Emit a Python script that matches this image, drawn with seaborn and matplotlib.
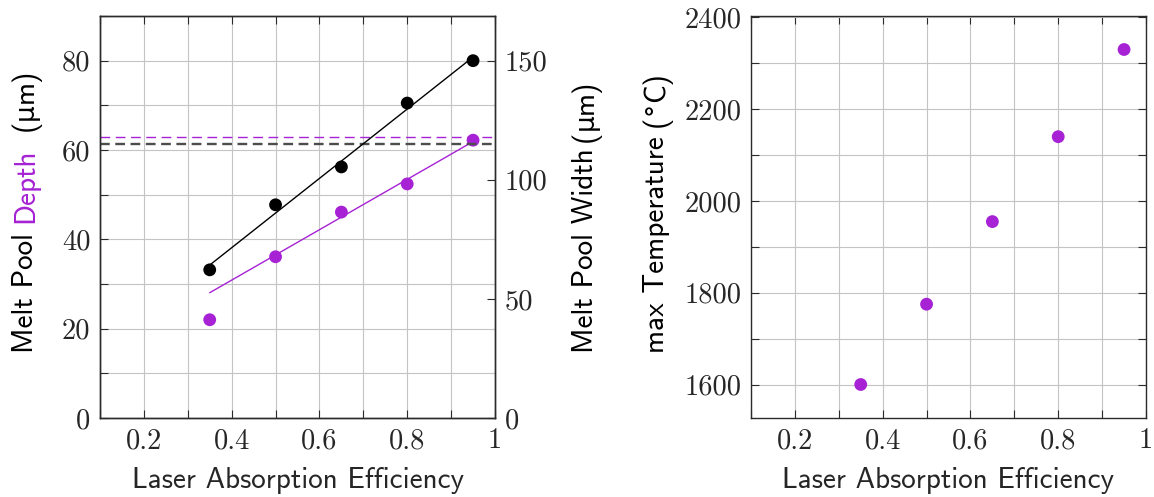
import numpy as np
import pandas as pd
import seaborn as sns
import matplotlib
matplotlib.use("Agg")
import matplotlib.pyplot as plt
from matplotlib.ticker import MultipleLocator, FixedLocator, FuncFormatter

# ---------------- data ----------------
efficiency = [0.35, 0.50, 0.65, 0.80, 0.95]
depth_um = [22.0, 36.1, 46.1, 52.4, 62.2]
width_um = [62.2, 89.5, 105.4, 132.2, 150.0]
max_temp_C = [1600, 1775, 1955, 2140, 2330]
depth_reference = 62.8
width_reference = 115.0

PURPLE = '#a622d4'
GRID = '#c4c4c4'
FRAME = '#2b2b2b'
W, H = 1154, 497

sns.set_theme(style='white')
plt.rcParams['font.family'] = ['cmr10', 'DejaVu Serif']
plt.rcParams['axes.formatter.use_mathtext'] = True
plt.rcParams['lines.scale_dashes'] = False
SANS = ['cmss10']
SYM = ['DejaVu Sans']
TICK_FS = 20.5
LAB_FS = 21

df = pd.DataFrame({'eff': efficiency, 'depth': depth_um, 'width': width_um, 'temp': max_temp_C})

fig = plt.figure(figsize=(W / 100, H / 100), dpi=100)
ax1 = fig.add_axes([100 / W, 1 - 418 / H, 395 / W, 402 / H])
ax3 = fig.add_axes([751 / W, 1 - 418 / H, 395 / W, 402 / H])
ax2 = ax1.twinx()

fmt = FuncFormatter(lambda v, p: f'{v:g}')

# ---------------- left panel ----------------
ax1.set_xlim(0.1, 1.0)
ax1.set_ylim(0, 90)
ax2.set_ylim(0, 90 * 150 / 80)

d_fit = np.polyfit(efficiency[1:], depth_um[1:], 1)
w_fit = np.polyfit(efficiency, width_um, 1)
xs = np.array([efficiency[0], efficiency[-1]])
sns.lineplot(x=xs, y=np.polyval(d_fit, xs), ax=ax1, color=PURPLE, lw=1.0, zorder=3)
sns.lineplot(x=xs, y=np.polyval(w_fit, xs), ax=ax2, color='black', lw=1.0, zorder=3)

ax1.axhline(depth_reference, color=PURPLE, lw=1.0, ls=(0, (7, 4)), zorder=2)
ax2.axhline(width_reference, color='#4d4d4d', lw=1.7, ls=(0, (7, 4)), zorder=2)

sns.scatterplot(data=df, x='eff', y='depth', ax=ax1, color=PURPLE, s=85, edgecolor='none', zorder=4)
sns.scatterplot(data=df, x='eff', y='width', ax=ax2, color='black', s=85, edgecolor='none', zorder=4)

ax1.xaxis.set_major_locator(FixedLocator([0.2, 0.4, 0.6, 0.8, 1.0]))
ax1.xaxis.set_minor_locator(FixedLocator([0.1, 0.3, 0.5, 0.7, 0.9]))
ax1.yaxis.set_major_locator(MultipleLocator(20))
ax1.yaxis.set_minor_locator(MultipleLocator(10))
ax2.yaxis.set_major_locator(MultipleLocator(50))
ax1.xaxis.set_major_formatter(fmt)
ax1.yaxis.set_major_formatter(fmt)
ax2.yaxis.set_major_formatter(fmt)

ax1.grid(True, which='both', color=GRID, lw=0.8)
ax2.grid(False)
for a in (ax1, ax2):
    a.set_xlabel('')
    a.set_ylabel('')

# ---------------- right panel ----------------
sns.scatterplot(data=df, x='eff', y='temp', ax=ax3, color=PURPLE, s=85, edgecolor='none', zorder=4)
ax3.set_xlim(0.1, 1.0)
rng = max(max_temp_C) - min(max_temp_C)
ax3.set_ylim(min(max_temp_C) - 0.1 * rng, max(max_temp_C) + 0.1 * rng)
ax3.xaxis.set_major_locator(FixedLocator([0.2, 0.4, 0.6, 0.8, 1.0]))
ax3.xaxis.set_minor_locator(FixedLocator([0.1, 0.3, 0.5, 0.7, 0.9]))
ax3.yaxis.set_major_locator(MultipleLocator(200))
ax3.yaxis.set_minor_locator(MultipleLocator(100))
ax3.xaxis.set_major_formatter(fmt)
ax3.yaxis.set_major_formatter(fmt)
ax3.grid(True, which='both', color=GRID, lw=0.8)
ax3.set_ylabel('')
ax3.set_xlabel('Laser Absorption Efficiency', family=SANS, fontsize=LAB_FS, labelpad=9)
ax1.set_xlabel('Laser Absorption Efficiency', family=SANS, fontsize=LAB_FS, labelpad=9)

for a in (ax1, ax2, ax3):
    for s in a.spines.values():
        s.set_color(FRAME)
        s.set_linewidth(1.0)
        s.set_visible(True)
    a.set_axisbelow(True)

for a in (ax1, ax3):
    a.tick_params(which='both', direction='in', length=6, width=0.8, color=FRAME,
                  top=True, bottom=True, labelsize=TICK_FS, pad=7)
ax1.tick_params(axis='y', which='both', left=True, right=False)
ax3.tick_params(axis='y', which='both', left=True, right=True)
ax2.tick_params(axis='y', which='both', direction='in', length=6, width=0.8, color=FRAME,
                right=True, left=False, labelsize=TICK_FS, pad=7)
for a in (ax1, ax2, ax3):
    for lab in a.get_xticklabels() + a.get_yticklabels():
        lab.set_family(['cmr10', 'DejaVu Serif'])

# rotated multi-part labels (sans text + symbol glyphs from DejaVu Sans)
renderer = fig.canvas.get_renderer()
em = LAB_FS * 100 / 72


def vertical_label(x_base, y_start, parts):
    y = y_start
    for s, color, fam, gap, fs in parts:
        y += gap * em
        t = fig.text(x_base / W, y / H, s, rotation=90, rotation_mode='anchor',
                     ha='left', va='baseline', color=color, family=fam, fontsize=fs)
        y += t.get_window_extent(renderer).height


SYM_FS = LAB_FS * 0.9
vertical_label(33, H - 353, [
    ('Melt Pool', 'black', SANS, 0, LAB_FS),
    ('Depth', PURPLE, SANS, 0.33, LAB_FS),
    ('(', 'black', SANS, 0.6, LAB_FS),
    ('µ', 'black', SYM, 0.0, SYM_FS),
    ('m)', 'black', SANS, 0.0, LAB_FS),
])
vertical_label(593, H - 353, [
    ('Melt Pool Width', 'black', SANS, 0, LAB_FS),
    ('(', 'black', SANS, 0.22, LAB_FS),
    ('µ', 'black', SYM, 0.0, SYM_FS),
    ('m)', 'black', SANS, 0.0, LAB_FS),
])
vertical_label(664, H - 353, [
    ('max Temperature', 'black', SANS, 0, LAB_FS),
    ('(', 'black', SANS, 0.33, LAB_FS),
    ('°', 'black', SYM, 0.0, SYM_FS),
    ('C)', 'black', SANS, 0.0, LAB_FS),
])

fig.savefig('out.png', dpi=100)
